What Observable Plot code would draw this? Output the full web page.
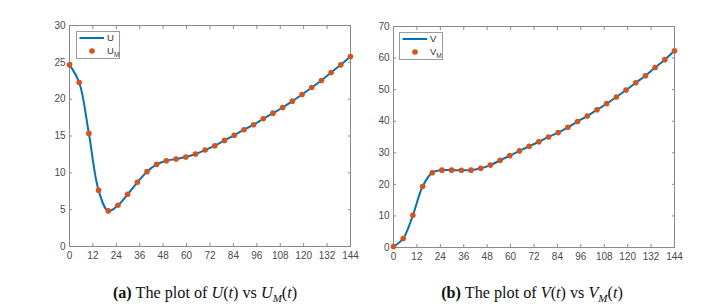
<!DOCTYPE html>
<html>
<head>
<meta charset="utf-8">
<script src="https://cdn.jsdelivr.net/npm/d3@7"></script>
<script src="https://cdn.jsdelivr.net/npm/@observablehq/plot@0.6"></script>
<style>
  body { margin: 0; background: #fff; }
  #wrap { position: relative; width: 725px; height: 307px; background: #fff; overflow: hidden; }
  .panel { position: absolute; }
  .legend { position: absolute; border: 1px solid #9a9a9a; background: #fff; box-sizing: border-box;
            font-family: "Liberation Sans", Arial, sans-serif; font-size: 9.5px; color: #333; }
  .caption { position: absolute; top: 284px; font-family: "Liberation Serif", "Times New Roman", serif;
             font-size: 16.2px; line-height: 18px; color: #111; white-space: nowrap; transform: translateX(-50%); }
  .caption i sub { font-size: 11px; }
</style>
</head>
<body>
<div id="wrap">
  <div id="pa" class="panel" style="left:0;top:0"></div>
  <div id="pb" class="panel" style="left:362px;top:1px"></div>
  <div class="legend" style="left:76px;top:31px;width:44px;height:28px">
    <svg width="44" height="28" style="position:absolute;left:-1px;top:-1px">
      <line x1="3.5" x2="28" y1="7" y2="7" stroke="#0072BD" stroke-width="2"/>
      <circle cx="16" cy="20" r="2.8" fill="#D95319"/>
    </svg>
    <span style="position:absolute;left:30px;top:0px">U</span>
    <span style="position:absolute;left:30px;top:13px">U<sub style="font-size:6.5px">M</sub></span>
  </div>
  <div class="legend" style="left:399px;top:32px;width:44px;height:28px">
    <svg width="44" height="28" style="position:absolute;left:-1px;top:-1px">
      <line x1="3.5" x2="28" y1="7" y2="7" stroke="#0072BD" stroke-width="2"/>
      <circle cx="16" cy="20" r="2.8" fill="#D95319"/>
    </svg>
    <span style="position:absolute;left:30px;top:0px">V</span>
    <span style="position:absolute;left:30px;top:13px">V<sub style="font-size:6.5px">M</sub></span>
  </div>
  <div class="caption" style="left:205px"><b>(a)</b> The plot of <i>U</i>(<i>t</i>) vs <i>U<sub>M</sub></i>(<i>t</i>)</div>
  <div class="caption" style="left:532px"><b>(b)</b> The plot of <i>V</i>(<i>t</i>) vs <i>V<sub>M</sub></i>(<i>t</i>)</div>
</div>
<script>
// Time points of the sampled markers (same for both panels)
const tValues = [0, 4.97, 9.93, 14.9, 19.86, 24.83, 29.79, 34.76, 39.72, 44.69,
  49.66, 54.62, 59.59, 64.55, 69.52, 74.48, 79.45, 84.41, 89.38, 94.34,
  99.31, 104.28, 109.24, 114.21, 119.17, 124.14, 129.1, 134.07, 139.03, 144];
// Panel (a): U(t) / U_M(t)
const uValues = [24.66, 22.26, 15.35, 7.63, 4.83, 5.6, 7.09, 8.71, 10.16, 11.15,
  11.65, 11.87, 12.14, 12.55, 13.09, 13.68, 14.4, 15.1, 15.85, 16.53,
  17.34, 18.1, 18.87, 19.73, 20.64, 21.59, 22.53, 23.62, 24.66, 25.79];
// Panel (b): V(t) / V_M(t)
const vValues = [0.3, 2.85, 10.2, 19.3, 23.7, 24.5, 24.5, 24.45, 24.5, 25.1,
  26.1, 27.6, 29.1, 30.6, 32.05, 33.5, 35.0, 36.4, 38.07, 39.9,
  41.65, 43.65, 45.57, 47.66, 49.87, 52.2, 54.4, 57.0, 59.5, 62.3];
// Tick labels
const xTicks = [0, 12, 24, 36, 48, 60, 72, 84, 96, 108, 120, 132, 144];
const uTicks = [0, 5, 10, 15, 20, 25, 30];
const vTicks = [0, 10, 20, 30, 40, 50, 60, 70];

const LINE = "#0072BD", DOT = "#D95319", AX = "#8a8a8a";

function panel(values, yDomain, yTicks, mLeft, mRight) {
  const data = tValues.map((t, i) => ({t, v: values[i]}));
  return Plot.plot({
    width: mLeft + 281 + mRight,
    height: 266,
    marginLeft: mLeft, marginRight: mRight, marginTop: 25, marginBottom: 20,
    style: {fontFamily: "'Liberation Sans', Arial, sans-serif", fontSize: "10px", color: "#4a4a4a", background: "#fff"},
    x: {domain: [0, 144]},
    y: {domain: yDomain},
    marks: [
      Plot.axisX({ticks: xTicks, tickSize: 0, tickPadding: 5, label: null}),
      Plot.axisY({ticks: yTicks, tickSize: 0, tickPadding: 4, label: null}),
      Plot.axisX({ticks: xTicks, anchor: "bottom", tickSize: -3, tickFormat: () => "", label: null, stroke: AX}),
      Plot.axisX({ticks: xTicks, anchor: "top", tickSize: -3, tickFormat: () => "", label: null, stroke: AX}),
      Plot.axisY({ticks: yTicks, anchor: "left", tickSize: -3, tickFormat: () => "", label: null, stroke: AX}),
      Plot.axisY({ticks: yTicks, anchor: "right", tickSize: -3, tickFormat: () => "", label: null, stroke: AX}),
      Plot.frame({stroke: AX}),
      Plot.line(data, {x: "t", y: "v", stroke: LINE, strokeWidth: 2, curve: "catmull-rom"}),
      Plot.dot(data, {x: "t", y: "v", fill: DOT, r: 2.8})
    ]
  });
}

document.getElementById("pa").append(panel(uValues, [0, 30], uTicks, 69, 12));
document.getElementById("pb").append(panel(vValues, [0, 70], vTicks, 31, 51));
</script>
</body>
</html>
